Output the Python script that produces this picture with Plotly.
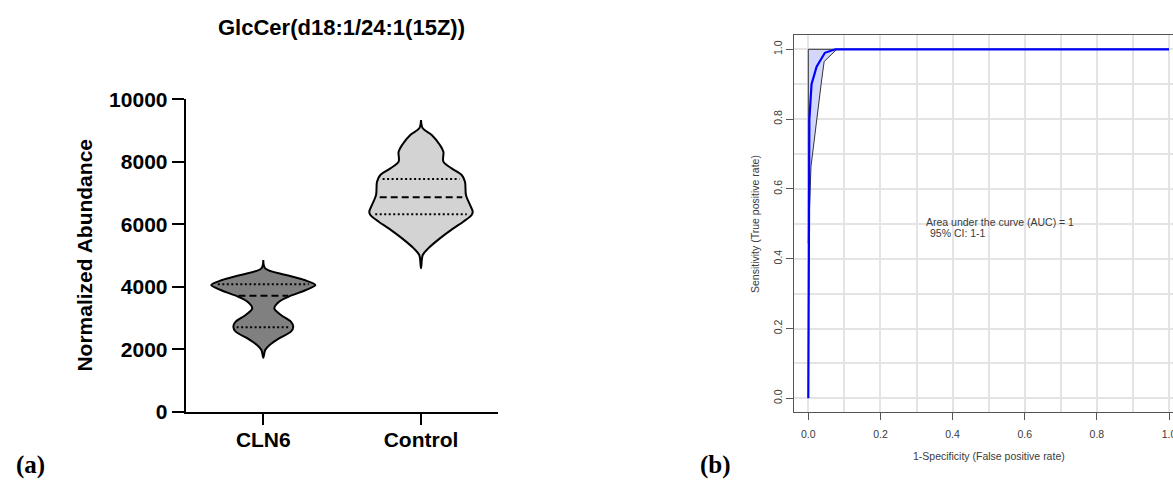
import numpy as np
import plotly.graph_objects as go

W, H = 1173, 480

# ---- Panel (a): violin profiles of GlcCer(d18:1/24:1(15Z)) ----
categories = ["CLN6", "Control"]

cln6_levels = [1737, 1983, 2143, 2356, 2569, 2729, 2889, 3102, 3315, 3528,
               3720, 3902, 4061, 4221, 4381, 4595, 4861]
cln6_halfwidth = [0.0, 0.012, 0.04, 0.10, 0.175, 0.19, 0.175, 0.112, 0.07, 0.10,
                  0.175, 0.27, 0.33, 0.26, 0.144, 0.012, 0.0]
cln6_quartiles = [2707, 3720, 4083]

control_levels = [4595, 5020, 5233, 5553, 5873, 6086, 6300, 6406, 6620, 6940,
                  7365, 7579, 7792, 8005, 8325, 8538, 8858, 9072, 9338]
control_halfwidth = [0.0, 0.011, 0.046, 0.12, 0.205, 0.268, 0.321, 0.328, 0.311, 0.285,
                     0.279, 0.258, 0.194, 0.142, 0.142, 0.12, 0.068, 0.011, 0.0]
control_quartiles = [6322, 6866, 7451]

abundance_ticks = [0, 2000, 4000, 6000, 8000, 10000]
abundance_labels = ["0", "2000", "4000", "6000", "8000", "10000"]

# ---- Panel (b): ROC curve with 95% CI band of sensitivity ----
roc_fpr = [0.0, 0.001, 0.003, 0.009, 0.023, 0.046, 0.065, 0.075, 1.0]
roc_tpr = [0.0, 0.40, 0.80, 0.90, 0.95, 0.99, 0.998, 1.0, 1.0]

ci_fpr = [0.0, 0.0074, 0.037, 0.044, 0.079, 1.0]
ci_lower = [0.444, 0.664, 0.912, 0.965, 1.0, 1.0]
ci_upper = [1.0, 1.0, 1.0, 1.0, 1.0, 1.0]

auc_value = 1
ci_text = "1-1"


def px_x(p):
    return p / W


def px_y(p):
    return 1 - p / H


BOLD = dict(family="Arial, Liberation Sans, sans-serif", size=21, color="black", weight="bold")
THIN = dict(family="Arial, Liberation Sans, sans-serif", size=10.5, color="#3a3a3a")
SERIF = dict(family="Liberation Serif, Times New Roman, serif", size=25,
             color="black", weight="bold")

fig = go.Figure()

violins = [
    (0, cln6_levels, cln6_halfwidth, cln6_quartiles, "#808080"),
    (1, control_levels, control_halfwidth, control_quartiles, "#d3d3d3"),
]
for center, levels, hw, quart, color in violins:
    lv = np.array(levels, dtype=float)
    w = np.array(hw, dtype=float)
    xs = np.concatenate([center + w, (center - w)[::-1]])
    ys = np.concatenate([lv, lv[::-1]])
    fig.add_trace(go.Scatter(
        x=xs, y=ys, mode="lines", fill="toself", fillcolor=color,
        line=dict(color="black", width=2, shape="spline", smoothing=0.9),
        hoverinfo="skip", showlegend=False, xaxis="x", yaxis="y"))
    for k, q in enumerate(quart):
        half = float(np.interp(q, lv, w)) * 0.9
        fig.add_trace(go.Scatter(
            x=[center - half, center + half], y=[q, q], mode="lines",
            line=dict(color="black", width=2,
                      dash="7px,4px" if k == 1 else "2px,2.5px"),
            hoverinfo="skip", showlegend=False, xaxis="x", yaxis="y"))

# CI band polygon (lower bound out, upper bound back)
band_x = list(ci_fpr) + list(ci_fpr)[::-1] + [ci_fpr[0]]
band_y = list(ci_lower) + list(ci_upper)[::-1] + [ci_lower[0]]
fig.add_trace(go.Scatter(
    x=band_x, y=band_y, mode="lines", fill="toself", fillcolor="#d3d7fb",
    line=dict(color="#333333", width=1), hoverinfo="skip", showlegend=False,
    xaxis="x2", yaxis="y2"))
fig.add_trace(go.Scatter(
    x=roc_fpr, y=roc_tpr, mode="lines", line=dict(color="#0000ff", width=2.2),
    hoverinfo="skip", showlegend=False, xaxis="x2", yaxis="y2"))

# axis placement in pixels
a_left, a_right, a_bottom, a_top = 185.7, 498.0, 412.0, 99.3
b_left, b_bottom, b_top = 794.0, 412.0, 35.0
cat_unit = 157.7
x0_px = 263.3

fig.update_layout(
    width=W, height=H, margin=dict(l=0, r=0, t=0, b=0, autoexpand=False),
    paper_bgcolor="white", plot_bgcolor="white",
    xaxis=dict(
        domain=[px_x(a_left), px_x(a_right)],
        range=[(a_left - x0_px) / cat_unit, (a_right - x0_px) / cat_unit],
        tickvals=[0, 1], ticktext=categories, tickfont=BOLD,
        showline=True, linecolor="black", linewidth=2,
        ticks="outside", ticklen=11, tickwidth=2, tickcolor="black",
        ticklabelstandoff=-3, showgrid=False, zeroline=False, anchor="y",
        automargin=False),
    yaxis=dict(
        domain=[px_y(a_bottom), px_y(a_top)], range=[0, 10000],
        tickvals=abundance_ticks, ticktext=abundance_labels, tickfont=BOLD,
        showline=True, linecolor="black", linewidth=2,
        ticks="outside", ticklen=12, tickwidth=2, tickcolor="black",
        ticklabelstandoff=0, showgrid=False, zeroline=False, anchor="x",
        automargin=False),
    xaxis2=dict(
        domain=[px_x(b_left), 1.0],
        range=[(b_left - 808.3) / 360.7, (W - 808.3) / 360.7],
        tick0=0, dtick=0.2, tickformat=".1f", tickfont=THIN,
        showline=True, mirror=True, linecolor="#555555", linewidth=1.3,
        ticks="outside", ticklen=7, tickwidth=1, tickcolor="#555555",
        ticklabelstandoff=5, ticklabeloverflow="allow",
        showgrid=True, gridcolor="#e4e4e4", gridwidth=1.5,
        minor=dict(dtick=0.1, showgrid=True, gridcolor="#e4e4e4", gridwidth=1.5, ticks=""),
        zeroline=False, anchor="y2", automargin=False),
    yaxis2=dict(
        domain=[px_y(b_bottom), px_y(b_top)],
        range=[(398.3 - b_bottom) / 349.0, (398.3 - b_top) / 349.0],
        tick0=0, dtick=0.2, tickformat=".1f", tickfont=THIN, tickangle=-90,
        showline=True, mirror=False, linecolor="#555555", linewidth=1.3,
        ticks="outside", ticklen=7, tickwidth=1, tickcolor="#555555",
        showgrid=True, gridcolor="#e4e4e4", gridwidth=1.5,
        minor=dict(dtick=0.1, showgrid=True, gridcolor="#e4e4e4", gridwidth=1.5, ticks=""),
        zeroline=False, anchor="x2", automargin=False),
)

ann = [
    dict(text="GlcCer(d18:1/24:1(15Z))", x=px_x(341.7), y=px_y(27),
         font=dict(BOLD, size=22)),
    dict(text="Normalized Abundance", x=px_x(85), y=px_y(255.6), font=BOLD, textangle=-90),
    dict(text="(a)", x=px_x(30), y=px_y(465), font=SERIF),
    dict(text="(b)", x=px_x(715), y=px_y(465), font=SERIF),
    dict(text="1-Specificity (False positive rate)", x=px_x(988.8), y=px_y(456), font=THIN),
    dict(text="Sensitivity (True positive rate)", x=px_x(755), y=px_y(224),
         font=THIN, textangle=-90),
    dict(text=f"Area under the curve (AUC) = {auc_value}", x=px_x(924), y=px_y(221.7),
         font=THIN, xanchor="left"),
    dict(text=f"95% CI: {ci_text}", x=px_x(927.5), y=px_y(233.3),
         font=THIN, xanchor="left"),
]
for a in ann:
    base = dict(xref="paper", yref="paper", showarrow=False, xanchor="center", yanchor="middle")
    base.update(a)
    fig.add_annotation(**base)

fig.write_html("out.html")
